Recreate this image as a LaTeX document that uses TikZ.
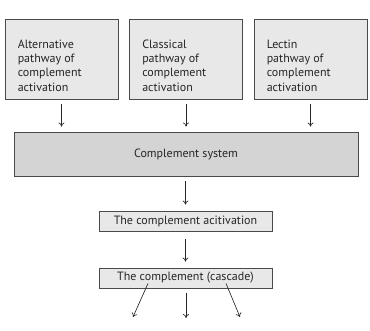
\documentclass[tikz,border=0pt]{standalone}
\usepackage{fontspec}
\setmainfont{PT Sans}
\usetikzlibrary{arrows.meta}
\definecolor{boxfill}{HTML}{E8E8E8}
\definecolor{sysfill}{HTML}{D4D4D4}
\definecolor{edge}{HTML}{4A4A4A}
\definecolor{ink}{HTML}{262626}
\tikzset{
  pathbox/.style={draw=edge, fill=boxfill, line width=0.9pt, minimum width=113pt,
    minimum height=80pt, inner sep=0pt},
  pathtext/.style={anchor=north west, align=left, text=ink, inner sep=0pt,
    font=\fontsize{12}{14.3}\selectfont},
  sysbox/.style={draw=edge, fill=sysfill, line width=0.9pt, minimum width=344pt,
    minimum height=44pt, inner sep=0pt, text=ink, font=\fontsize{12}{14}\selectfont},
  stagebox/.style={draw=edge, fill=boxfill, line width=0.9pt, minimum width=173pt,
    minimum height=20pt, inner sep=0pt, text=ink, font=\fontsize{12}{14}\selectfont},
  arr/.style={draw=ink, line width=0.65pt, -{To[length=4pt,width=6pt]}},
}
\begin{document}
\begin{tikzpicture}[x=1pt,y=-1pt]
\useasboundingbox (0,0) rectangle (370,330);

% three pathways
\node[pathbox] (alt) at (61.5,59) {};
\node[pathbox] (cla) at (186,59) {};
\node[pathbox] (lec) at (310.5,59) {};
\node[pathtext] (altT) at ([xshift=13pt,yshift=-21pt]alt.north west)
  {Alternative\\pathway of\\complement\\activation};
\node[pathtext] (claT) at ([xshift=13pt,yshift=-21pt]cla.north west)
  {Classical\\pathway of\\complement\\activation};
\node[pathtext] (lecT) at ([xshift=13pt,yshift=-21pt]lec.north west)
  {Lectin\\pathway of\\complement\\activation};

% complement system and stages
\node[sysbox] (sys) at (186,154) {Complement system};
\node[stagebox] (act) at (185.5,221) {The complement acitivation};
\node[stagebox] (cas) at (185.5,278) {The complement (cascade)};

% arrows into the complement system
\foreach \b in {alt,cla,lec}
  \draw[arr, shorten <=5pt, shorten >=5pt] (\b.south) -- (\b.south |- sys.north);

\draw[arr, shorten <=5pt, shorten >=6pt] (sys.south -| act.north) -- (act.north);
\draw[arr, shorten <=8pt, shorten >=6pt] (act.south) -- (cas.north);

% outputs of the cascade
\coordinate (o1) at (133,317);
\coordinate (o2) at (186,318);
\coordinate (o3) at (240,317);
\draw[arr] ([shift={(-37.5pt,5pt)}]cas.south) -- (o1);
\draw[arr] (cas.south -| o2) ++(0,5) -- (o2);
\draw[arr] ([shift={(40.5pt,5pt)}]cas.south) -- (o3);
\end{tikzpicture}
\end{document}
